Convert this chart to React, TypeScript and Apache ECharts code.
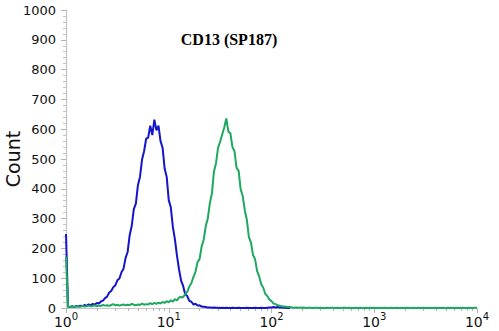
import React, { useEffect, useRef } from "react";
import * as echarts from "echarts";

// Channel width in decades of fluorescence intensity (10^0 .. 10^4)
const STEP = 0.02;

// Counts per channel
const blueCounts = [
  248, 4, 3, 6, 3, 7, 5, 8, 6, 10,
  7, 12, 9, 14, 11, 17, 15, 22, 25, 33,
  38, 52, 57, 70, 76, 93, 99, 120, 132, 168,
  188, 245, 276, 332, 350, 412, 440, 498, 526, 568,
  572, 612, 580, 632, 596, 612, 560, 538, 468, 440,
  362, 338, 272, 230, 176, 130, 92, 74, 46, 40,
  24, 21, 12, 14, 8, 9, 5, 4, 3, 2,
  2, 1, 2, 1, 1, 0, 1, 0, 1, 0,
  0, 1, 0, 0, 1, 0, 0, 0, 1, 0,
  0, 0, 1, 0, 0, 1, 0, 0, 1, 2,
  2, 3, 2, 3, 2, 2, 1, 1, 0, 0,
];

const greenCounts = [
  172, 3, 4, 5, 3, 6, 5, 4, 7, 5,
  6, 8, 6, 7, 9, 6, 8, 7, 10, 8,
  9, 7, 10, 13, 9, 11, 8, 10, 12, 9,
  11, 10, 14, 11, 9, 12, 10, 15, 11, 13,
  12, 16, 13, 17, 14, 18, 15, 20, 17, 23,
  19, 26, 21, 30, 25, 35, 37, 36, 47, 54,
  72, 83, 104, 121, 154, 164, 206, 229, 275, 300,
  352, 384, 458, 486, 538, 558, 582, 606, 636, 592,
  586, 540, 526, 470, 460, 398, 376, 328, 296, 238,
  220, 178, 164, 124, 106, 80, 68, 47, 40, 28,
  23, 15, 13, 9, 8, 6, 5, 4, 3, 3,
  2, 1, 2, 1, 1, 2, 1, 0, 1, 1,
  0, 1, 1, 0, 1, 0, 0, 1, 0, 1,
  1, 0, 1, 0, 0, 1, 1, 0, 1, 0,
  0, 1, 0, 1, 0, 0, 1, 0, 1, 0,
  1, 0, 0, 1, 0, 1, 0, 0, 1, 0,
  0, 1, 0, 0, 1, 0, 1, 0, 0, 1,
  0, 0, 1, 0, 1, 0, 0, 1, 0, 0,
  1, 0, 0, 1, 0, 0, 1, 0, 1, 0,
  0, 1, 0, 1, 0, 0, 1, 0, 0, 1,
  1,
];

const TITLE = "CD13 (SP187)";
const Y_NAME = "Count";

// log-minor tick positions (2..9 within each decade)
const MINOR_TICKS: number[] = [];
for (let d = 0; d < 4; d++) {
  for (let k = 2; k <= 9; k++) MINOR_TICKS.push(d + Math.log10(k));
}

const FONT = "DejaVu Sans";

export default function App() {
  const ref = useRef<HTMLDivElement>(null);
  useEffect(() => {
    if (!ref.current) return;
    const chart = echarts.init(ref.current, null, { renderer: "svg" });
    const toPairs = (arr: number[]) => arr.map((c, i) => [i * STEP, c]);
    chart.setOption({
      animation: false,
      backgroundColor: "#ffffff",
      grid: { left: 66, right: 22, top: 10, bottom: 23, outerBoundsMode: "none" },
      graphic: [
        {
          type: "text",
          x: 229,
          y: 39,
          style: {
            text: TITLE,
            font: 'bold 16px "Liberation Serif"',
            fill: "#000",
            textAlign: "center",
            textVerticalAlign: "middle",
          },
        },
      ],
      xAxis: [
        {
          type: "value",
          min: 0,
          max: 4,
          interval: 1,
          axisLine: { show: true, lineStyle: { color: "#c4c4c4", width: 1.2 } },
          axisTick: { show: true, length: 5, lineStyle: { color: "#b4b4b4" } },
          splitLine: { show: false },
          axisLabel: {
            margin: 3,
            formatter: (v: number) => `{b|10}{s|${v}}`,
            rich: {
              b: { fontSize: 14, fontFamily: FONT, color: "#111", verticalAlign: "bottom", lineHeight: 18 },
              s: { fontSize: 10, fontFamily: FONT, color: "#111", verticalAlign: "top", lineHeight: 18 },
            },
          },
        },
        {
          type: "value",
          min: 0,
          max: 4,
          position: "bottom",
          axisLine: { show: false },
          axisLabel: { show: false },
          splitLine: { show: false },
          axisTick: { show: true, length: 3, customValues: MINOR_TICKS, lineStyle: { color: "#b4b4b4" } },
        },
      ],
      yAxis: {
        type: "value",
        min: 0,
        max: 1000,
        interval: 100,
        name: Y_NAME,
        nameLocation: "middle",
        nameGap: 44,
        nameMoveOverlap: false,
        nameTextStyle: { fontSize: 19, fontFamily: FONT, color: "#111" },
        axisLine: { show: true, lineStyle: { color: "#c4c4c4", width: 1.2 } },
        axisTick: { show: true, length: 5, lineStyle: { color: "#b4b4b4" } },
        minorTick: { show: true, splitNumber: 5, length: 3, lineStyle: { color: "#c4c4c4" } },
        splitLine: { show: false },
        axisLabel: {
          fontSize: 13,
          fontFamily: FONT,
          color: "#111",
          margin: 10,
          formatter: (v: number) => String(v),
        },
      },
      series: [
        {
          type: "line",
          data: toPairs(blueCounts),
          showSymbol: false,
          lineStyle: { color: "#1414c8", width: 2 },
          itemStyle: { color: "#1414c8" },
        },
        {
          type: "line",
          data: toPairs(greenCounts),
          showSymbol: false,
          lineStyle: { color: "#1ea860", width: 2 },
          itemStyle: { color: "#1ea860" },
        },
      ],
    });
    return () => chart.dispose();
  }, []);
  return <div ref={ref} style={{ width: 499, height: 331, position: "absolute", left: 0, top: 0 }} />;
}
